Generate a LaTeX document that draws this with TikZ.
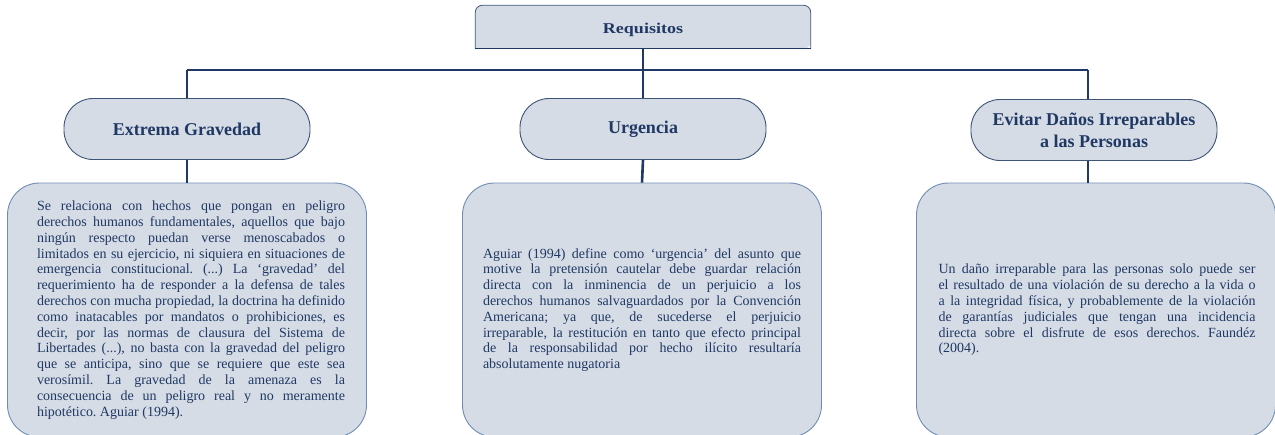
\documentclass[tikz,border=0pt]{standalone}
\usepackage{fontspec}
\setmainfont{Liberation Serif}
\frenchspacing
\newcommand\nohyph{\frenchspacing\hyphenpenalty=10000\relax\exhyphenpenalty=10000\relax\emergencystretch=20pt\relax}
\definecolor{navy}{HTML}{1F3864}
\definecolor{boxfill}{HTML}{D6DCE5}
\definecolor{ovalline}{HTML}{3E5478}
\definecolor{boxline}{HTML}{6F8DB5}
\tikzset{
  conn/.style={draw=navy, line width=2.6pt},
  topbox/.style={minimum width=335pt, minimum height=43pt, inner sep=0pt},
  toptext/.style={font=\bfseries\fontsize{15}{17}\selectfont, text=navy, inner sep=0pt},
  oval/.style={draw=ovalline, line width=0.9pt, fill=boxfill, minimum width=246pt, minimum height=61pt,
    rounded corners=29pt, inner sep=0pt, align=center, font=\bfseries\fontsize{18}{22}\selectfont, text=navy},
  txtbox/.style={draw=boxline, line width=0.9pt, fill=boxfill, minimum width=359pt, minimum height=254pt,
    rounded corners=32pt, inner sep=0pt},
  body/.style={text width=#1, align=justify, inner sep=0pt,
    font=\fontsize{14}{15.8}\selectfont\nohyph, text=navy}
}
\begin{document}
\begin{tikzpicture}[x=1pt,y=-1pt]
\useasboundingbox (0,0) rectangle (1275,434);
% top box: rounded top corners, square bottom
\node[topbox] (req) at (643,27) {};
\fill[boxfill, rounded corners=7pt] (req.south west) |- (req.north) -| (req.south east) [sharp corners] -- cycle;
\draw[ovalline, line width=0.8pt, rounded corners=7pt] (req.south west) |- (req.north) -| (req.south east);
\draw[navy, line width=1.4pt] (req.south west) -- (req.south east);
\node[toptext] (reqtxt) at ([yshift=-3pt]req.center) {\scalebox{1.2}[1]{Requisitos}};

\node[oval] (g) at (187,129) {Extrema Gravedad};
\node[oval] (u) at (643,129) {Urgencia};
\node[oval] (e) at (1094,130) {Evitar Daños Irreparables\\a las Personas};

\node[txtbox] (tg) at (187,310) {};
\node[txtbox] (tu) at (642,310) {};
\node[txtbox] (te) at (1096,310) {};

\coordinate (hl) at (187,70);
\coordinate (hm) at (643,70);
\coordinate (hr) at (1088,70);
\draw[conn] (req.south) -- (hm);
\draw[conn] (hl) -- (hr);
\draw[conn] (hl) -- (g.north);
\draw[conn] (hm) -- (u.north);
\draw[conn] (hr) -- (hr |- e.north);
\draw[conn] (g.south) -- (tg.north);
\draw[conn] (u.south) -- (tu.north);
\draw[conn] (hr |- e.south) -- (hr |- te.north);

\node[body=308pt] (bg) at (191,310) {Se relaciona con hechos que pongan en peligro\linebreak derechos humanos fundamentales, aquellos que bajo\linebreak ningún respecto puedan verse menoscabados o\linebreak limitados en su ejercicio, ni siquiera en situaciones de\linebreak emergencia constitucional. (...) La ‘gravedad’ del\linebreak requerimiento ha de responder a la defensa de tales\linebreak derechos con mucha propiedad, la doctrina ha definido\linebreak como inatacables por mandatos o prohibiciones, es\linebreak decir, por las normas de clausura del Sistema de\linebreak Libertades (...), no basta con la gravedad del peligro\linebreak que se anticipa, sino que se requiere que este sea\linebreak verosímil. La gravedad de la amenaza es la\linebreak consecuencia de un peligro real y no meramente\linebreak hipotético. Aguiar (1994).};
\node[body=318pt] (bu) at (642,310) {Aguiar (1994) define como ‘urgencia’ del asunto que\linebreak motive la pretensión cautelar debe guardar relación\linebreak directa con la inminencia de un perjuicio a los\linebreak derechos humanos salvaguardados por la Convención\linebreak Americana; ya que, de sucederse el perjuicio\linebreak irreparable, la restitución en tanto que efecto principal\linebreak de la responsabilidad por hecho ilícito resultaría\linebreak absolutamente nugatoria};
\node[body=317pt] (be) at (1097,310) {Un daño irreparable para las personas solo puede ser\linebreak el resultado de una violación de su derecho a la vida o\linebreak a la integridad física, y probablemente de la violación\linebreak de garantías judiciales que tengan una incidencia\linebreak directa sobre el disfrute de esos derechos. Faundéz\linebreak (2004).};
\end{tikzpicture}
\end{document}
